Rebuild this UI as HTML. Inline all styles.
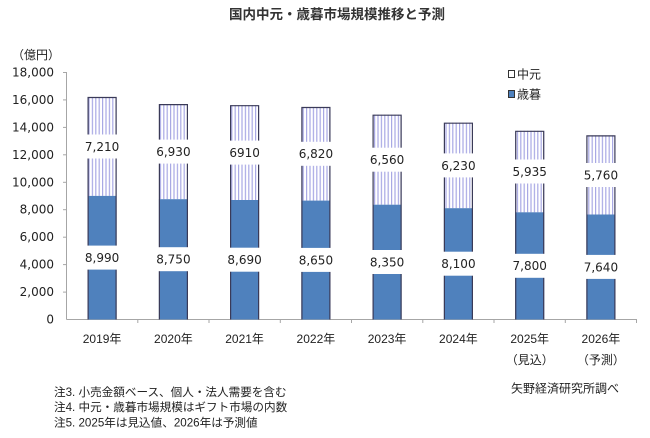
<!DOCTYPE html>
<html><head><meta charset="utf-8"><style>
html,body{margin:0;padding:0;background:#fff;}
svg{display:block;}
text{font-family:"DejaVu Sans","Liberation Sans","Noto Sans CJK JP",sans-serif;fill:#222;}
.j{font-family:"Liberation Sans","Noto Sans CJK JP",sans-serif;}
</style></head><body>
<svg width="650" height="438" viewBox="0 0 650 438" xmlns="http://www.w3.org/2000/svg">
<defs>
<pattern id="st" patternUnits="userSpaceOnUse" width="3.4" height="10">
<rect width="3.4" height="10" fill="#fff"/>
<rect x="0" width="1.2" height="10" fill="#a8a8e4"/>
</pattern>
</defs>
<text x="337" y="19" text-anchor="middle" class="j" style="font-size:13.5px;font-weight:bold;fill:#333">国内中元・歳暮市場規模推移と予測</text>
<text x="12" y="59" class="j" style="font-size:12px">（億円）</text>
<!-- y labels -->
<g style="font-size:12px" text-anchor="end">
<text x="54" y="76.5">18,000</text>
<text x="54" y="104">16,000</text>
<text x="54" y="131.4">14,000</text>
<text x="54" y="158.9">12,000</text>
<text x="54" y="186.3">10,000</text>
<text x="54" y="213.7">8,000</text>
<text x="54" y="241.2">6,000</text>
<text x="54" y="268.6">4,000</text>
<text x="54" y="296.1">2,000</text>
<text x="54" y="323.5">0</text>
</g>
<!-- axes -->
<g stroke="#a6a6a6" stroke-width="1">
<line x1="66.5" y1="72" x2="66.5" y2="319.5"/>
<line x1="63" y1="72.5" x2="66.5" y2="72.5"/>
<line x1="63" y1="99.9" x2="66.5" y2="99.9"/>
<line x1="63" y1="127.4" x2="66.5" y2="127.4"/>
<line x1="63" y1="154.8" x2="66.5" y2="154.8"/>
<line x1="63" y1="182.3" x2="66.5" y2="182.3"/>
<line x1="63" y1="209.7" x2="66.5" y2="209.7"/>
<line x1="63" y1="237.2" x2="66.5" y2="237.2"/>
<line x1="63" y1="264.6" x2="66.5" y2="264.6"/>
<line x1="63" y1="292.1" x2="66.5" y2="292.1"/>
<line x1="66.5" y1="319.5" x2="637" y2="319.5"/>
<line x1="137.8" y1="319.5" x2="137.8" y2="323"/>
<line x1="209" y1="319.5" x2="209" y2="323"/>
<line x1="280.3" y1="319.5" x2="280.3" y2="323"/>
<line x1="351.5" y1="319.5" x2="351.5" y2="323"/>
<line x1="422.8" y1="319.5" x2="422.8" y2="323"/>
<line x1="494" y1="319.5" x2="494" y2="323"/>
<line x1="565.3" y1="319.5" x2="565.3" y2="323"/>
<line x1="636.5" y1="319.5" x2="636.5" y2="323"/>
</g>
<!-- bars -->
<g id="bars">
<!-- 2019 -->
<rect x="87.6" y="97" width="29" height="98.9" fill="url(#st)"/>
<rect x="87.6" y="195.9" width="29" height="123.6" fill="#4f81bd"/>
<path d="M88.1 319.5V97.5H116.1V319.5" fill="none" stroke="#3a3a58" stroke-width="1.2"/>
<!-- 2020 -->
<rect x="158.9" y="104.1" width="29" height="95.1" fill="url(#st)"/>
<rect x="158.9" y="199.2" width="29" height="120.3" fill="#4f81bd"/>
<path d="M159.4 319.5V104.6H187.4V319.5" fill="none" stroke="#3a3a58" stroke-width="1.2"/>
<!-- 2021 -->
<rect x="230.1" y="105.2" width="29" height="94.8" fill="url(#st)"/>
<rect x="230.1" y="200" width="29" height="119.5" fill="#4f81bd"/>
<path d="M230.6 319.5V105.7H258.6V319.5" fill="none" stroke="#3a3a58" stroke-width="1.2"/>
<!-- 2022 -->
<rect x="301.4" y="107" width="29" height="93.6" fill="url(#st)"/>
<rect x="301.4" y="200.6" width="29" height="118.9" fill="#4f81bd"/>
<path d="M301.9 319.5V107.5H329.9V319.5" fill="none" stroke="#3a3a58" stroke-width="1.2"/>
<!-- 2023 -->
<rect x="372.6" y="114.7" width="29" height="90" fill="url(#st)"/>
<rect x="372.6" y="204.7" width="29" height="114.8" fill="#4f81bd"/>
<path d="M373.1 319.5V115.2H401.1V319.5" fill="none" stroke="#3a3a58" stroke-width="1.2"/>
<!-- 2024 -->
<rect x="443.9" y="122.7" width="29" height="85.5" fill="url(#st)"/>
<rect x="443.9" y="208.2" width="29" height="111.3" fill="#4f81bd"/>
<path d="M444.4 319.5V123.2H472.4V319.5" fill="none" stroke="#3a3a58" stroke-width="1.2"/>
<!-- 2025 -->
<rect x="515.2" y="130.8" width="29" height="81.5" fill="url(#st)"/>
<rect x="515.2" y="212.3" width="29" height="107.2" fill="#4f81bd"/>
<path d="M515.7 319.5V131.3H543.7V319.5" fill="none" stroke="#3a3a58" stroke-width="1.2"/>
<!-- 2026 -->
<rect x="586.4" y="135.4" width="29" height="79.1" fill="url(#st)"/>
<rect x="586.4" y="214.5" width="29" height="105" fill="#4f81bd"/>
<path d="M586.9 319.5V135.9H614.9V319.5" fill="none" stroke="#3a3a58" stroke-width="1.2"/>
</g>
<!-- label boxes -->
<g fill="#fff">
<rect x="81.1" y="134.5" width="42" height="24"/>
<rect x="81.1" y="245.6" width="42" height="24"/>
<rect x="152.4" y="139.6" width="42" height="24"/>
<rect x="152.4" y="247.2" width="42" height="24"/>
<rect x="223.6" y="140.6" width="42" height="24"/>
<rect x="223.6" y="247.7" width="42" height="24"/>
<rect x="294.9" y="141.8" width="42" height="24"/>
<rect x="294.9" y="247.9" width="42" height="24"/>
<rect x="366.1" y="147.7" width="42" height="24"/>
<rect x="366.1" y="250" width="42" height="24"/>
<rect x="437.4" y="153.4" width="42" height="24"/>
<rect x="437.4" y="251.7" width="42" height="24"/>
<rect x="508.7" y="159.5" width="42" height="24"/>
<rect x="508.7" y="253.8" width="42" height="24"/>
<rect x="579.9" y="163" width="42" height="24"/>
<rect x="579.9" y="254.9" width="42" height="24"/>
</g>
<g style="font-size:12px" text-anchor="middle">
<text x="102.1" y="151">7,210</text>
<text x="102.1" y="262">8,990</text>
<text x="173.4" y="156">6,930</text>
<text x="173.4" y="263.6">8,750</text>
<text x="244.6" y="157">6910</text>
<text x="244.6" y="264.1">8,690</text>
<text x="315.9" y="158.2">6,820</text>
<text x="315.9" y="264.3">8,650</text>
<text x="387.1" y="164.1">6,560</text>
<text x="387.1" y="266.4">8,350</text>
<text x="458.4" y="169.8">6,230</text>
<text x="458.4" y="268.1">8,100</text>
<text x="529.7" y="175.9">5,935</text>
<text x="529.7" y="270.2">7,800</text>
<text x="600.9" y="179.4">5,760</text>
<text x="600.9" y="271.3">7,640</text>
</g>
<!-- x labels -->
<g class="j" style="font-size:12px" text-anchor="middle">
<text x="102.1" y="343" class="j">2019年</text>
<text x="173.4" y="343" class="j">2020年</text>
<text x="244.6" y="343" class="j">2021年</text>
<text x="315.9" y="343" class="j">2022年</text>
<text x="387.1" y="343" class="j">2023年</text>
<text x="458.4" y="343" class="j">2024年</text>
<text x="529.7" y="343" class="j">2025年</text>
<text x="600.9" y="343" class="j">2026年</text>
<text x="529.7" y="364" class="j">（見込）</text>
<text x="600.9" y="364" class="j">（予測）</text>
</g>
<!-- legend -->
<rect x="508.5" y="70.5" width="6" height="7" fill="#fff" stroke="#333" stroke-width="1"/>
<text x="517" y="78.5" class="j" style="font-size:12px">中元</text>
<rect x="508.5" y="90.5" width="6" height="7" fill="#4f81bd" stroke="#333" stroke-width="1"/>
<text x="517" y="98.5" class="j" style="font-size:12px">歳暮</text>
<!-- source & notes -->
<text x="511" y="392.5" class="j" style="font-size:12px">矢野経済研究所調べ</text>
<g class="j" style="font-size:11.6px">
<text x="54" y="396" class="j">注3. 小売金額ベース、個人・法人需要を含む</text>
<text x="54" y="411" class="j">注4. 中元・歳暮市場規模はギフト市場の内数</text>
<text x="54" y="426.5" class="j">注5. 2025年は見込値、2026年は予測値</text>
</g>
</svg>
</body></html>
